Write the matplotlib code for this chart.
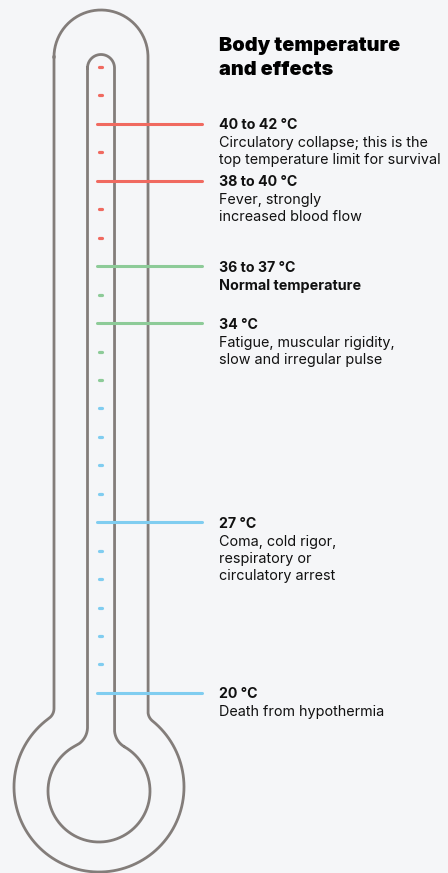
import numpy as np
import matplotlib
matplotlib.use("Agg")
import matplotlib.pyplot as plt
from matplotlib import transforms

# ---------------- data ----------------
tick_count = 23
band_names = ["hot", "normal", "cold"]
band_start = [0, 7, 12]
band_colors = ["#f06a60", "#8dcb98", "#80cdf0"]
marker_ticks = [2, 4, 7, 9, 16, 22]
marker_headers = ["40 to 42 °C", "38 to 40 °C", "36 to 37 °C", "34 °C", "27 °C", "20 °C"]
marker_bodies = [
    ["Circulatory collapse; this is the", "top temperature limit for survival"],
    ["Fever, strongly", "increased blood flow"],
    ["Normal temperature"],
    ["Fatigue, muscular rigidity,", "slow and irregular pulse"],
    ["Coma, cold rigor,", "respiratory or", "circulatory arrest"],
    ["Death from hypothermia"],
]
marker_body_bold = [False, False, True, False, False, False]
title_lines = ["Body temperature", "and effects"]

# ---------------- figure ----------------
W, H = 448, 873
BG = "#f5f6f8"
OUT = "#837d7a"
fig = plt.figure(figsize=(W / 100, H / 100), dpi=100, facecolor=BG)
ax = fig.add_axes([0, 0, 1, 1])
ax.set_xlim(0, W)
ax.set_ylim(H, 0)
ax.axis("off")
ax.set_facecolor(BG)

y0, step = 67.0, 28.45
ax2 = fig.add_axes([0, 0, 1, 1], sharex=ax)
ax2.set_ylim((H - y0) / step, (0 - y0) / step)
ax2.axis("off")
ax2.patch.set_alpha(0)


def tube_path(cx_t, top_cy, r_t, cx_b, cy_b, R, rf, n=80):
    xl, xr = cx_t - r_t, cx_t + r_t
    pts = []
    fcx = xl - rf
    fcy = cy_b - np.sqrt((R + rf) ** 2 - (fcx - cx_b) ** 2)
    d = np.array([fcx - cx_b, fcy - cy_b]) / (R + rf)
    tl = np.array([cx_b, cy_b]) + d * R
    a_end = np.arctan2(tl[1] - fcy, tl[0] - fcx)
    a = np.linspace(-np.pi, 0, n)
    top = np.c_[cx_t + r_t * np.cos(a), top_cy + r_t * np.sin(a)]
    fcx2 = xr + rf
    fcy2 = cy_b - np.sqrt((R + rf) ** 2 - (fcx2 - cx_b) ** 2)
    d2 = np.array([fcx2 - cx_b, fcy2 - cy_b]) / (R + rf)
    tr = np.array([cx_b, cy_b]) + d2 * R
    a2 = np.arctan2(tr[1] - fcy2, tr[0] - fcx2)
    pts.extend(top.tolist())
    pts.append([xr, fcy2])
    aa = np.linspace(np.pi, a2, n)
    pts.extend(np.c_[fcx2 + rf * np.cos(aa), fcy2 + rf * np.sin(aa)].tolist())
    ab0 = np.arctan2(tr[1] - cy_b, tr[0] - cx_b)
    ab1 = np.arctan2(tl[1] - cy_b, tl[0] - cx_b)
    if ab1 < ab0:
        ab1 += 2 * np.pi
    ab = np.linspace(ab0, ab1, 4 * n)
    pts.extend(np.c_[cx_b + R * np.cos(ab), cy_b + R * np.sin(ab)].tolist())
    aa = np.linspace(a_end, 0, n)
    pts.extend(np.c_[fcx + rf * np.cos(aa), fcy + rf * np.sin(aa)].tolist())
    pts.append([xl, top_cy])
    return np.array(pts)


outer = tube_path(101, 57, 47, 99, 787, 85, 12)
inner = tube_path(101, 68, 13.5, 99, 791, 51, 20)
for p in (outer, inner):
    ax.plot(p[:, 0], p[:, 1], color=OUT, lw=2.0, solid_joinstyle="round", zorder=5)


def band_color(i):
    c = band_colors[0]
    for s, col in zip(band_start, band_colors):
        if i >= s:
            c = col
    return c

for i in range(tick_count):
    col = band_color(i)
    if i in marker_ticks:
        ax2.plot([97, 201.5], [i, i], color=col, lw=2.2, solid_capstyle="round", zorder=3)
    else:
        ax2.plot([99, 102], [i, i], color=col, lw=2.3, solid_capstyle="round", zorder=3)

FONT = "Inter"
blend = transforms.blended_transform_factory(ax.transData, ax2.transData)
tx = 219
for k, idx in enumerate(marker_ticks):
    t = transforms.offset_copy(blend, fig=fig, x=0, y=-5.5, units="dots")
    ax.text(tx, idx, marker_headers[k], transform=t, fontsize=10.2, fontweight="bold",
            family=FONT, va="baseline", ha="left", color="#111111")
    for j, line in enumerate(marker_bodies[k]):
        t = transforms.offset_copy(blend, fig=fig, x=0, y=-(23.5 + 17 * j), units="dots")
        ax.text(tx, idx, line, transform=t, fontsize=10.35,
                fontweight="bold" if marker_body_bold[k] else "normal",
                family=FONT, va="baseline", ha="left", color="#111111")

for j, line in enumerate(title_lines):
    ax.text(tx, 51 + 24 * j, line, fontsize=14.3, fontweight="black", family=FONT,
            va="baseline", ha="left", color="#000000")

fig.savefig("out.png", dpi=100, facecolor=BG)
